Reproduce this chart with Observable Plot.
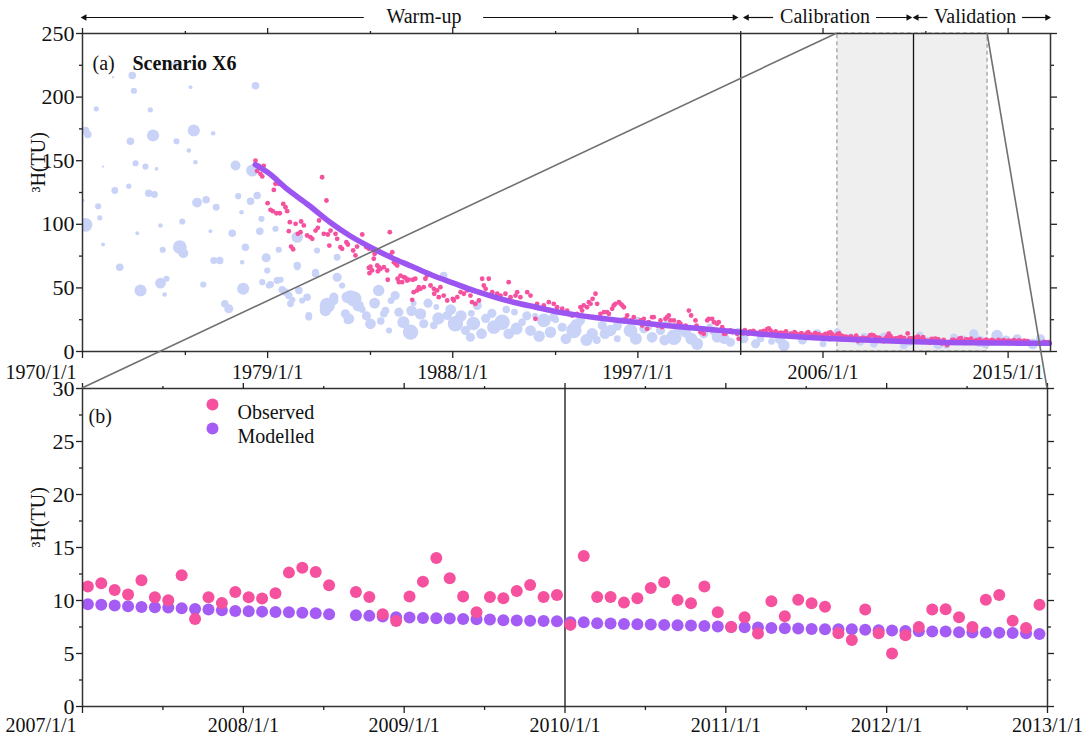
<!DOCTYPE html>
<html><head><meta charset="utf-8">
<script src="https://cdn.jsdelivr.net/npm/d3@7"></script>
<script src="https://cdn.jsdelivr.net/npm/@observablehq/plot@0.6"></script>
<style>
body{margin:0;background:#fff;}
#wrap{position:relative;width:1086px;height:736px;}
#wrap svg{display:block;}
#overlay{position:absolute;left:0;top:0;pointer-events:none;}
</style></head><body><div id="wrap"></div>
<script>
// ---------------- DATA ----------------
// Period annotations (panel a, top)
const periodLabels = ["Warm-up", "Calibration", "Validation"];
const periodStart = [1970.0, 2002.2, 2010.45];
const periodEnd = [2001.8, 2010.25, 2017.0];
const periodLabelAt = [1986.6, 2006.1, 2013.4];
const periodGapHalf = [2.9, 2.5, 2.3];
const periodDividers = [2002.0, 2010.4];
const zoomWindowA = [2006.7, 2014.0];   // grey box in panel a
const zoomWindowB = [2007, 2013];       // panel b domain

// Tick values
const xMajorA = [1970, 1979, 1988, 1997, 2006, 2015];
const xMinorA = [1975, 1984, 1993, 2002, 2011];
const yMajorA = [0, 50, 100, 150, 200, 250];
const yMinorA = [25, 75, 125, 175, 225];
const xMajorB = [2007, 2008, 2009, 2010, 2011, 2012, 2013];
const xMinorB = [2007.5, 2008.5, 2009.5, 2010.5, 2011.5, 2012.5];
const yMajorB = [0, 5, 10, 15, 20, 25, 30];
const yMinorB = [2.5, 7.5, 12.5, 17.5, 22.5, 27.5];
const panelBDivider = [2010];

// Precipitation tritium (bubbles): year, 3H (TU), amount (bubble size)
const bubbleYear = [1972.42,1974.52,1971.49,1972.5,1978.41,1975.25,1970.67,1973.3,1970.15,1970.26,1973.43,1975.41,1972.33,1974.57,1976.35,1975.17,1975.49,1972.58,1973.06,1971.0,1973.6,1977.44,1978.25,1972.25,1971.57,1973.22,1973.5,1975.57,1976.01,1976.5,1977.57,1978.49,1978.17,1970.76,1970.03,1970.15,1970.84,1974.85,1973.79,1977.73,1978.7,1978.62,1976.22,1977.28,1971.0,1972.66,1974.73,1974.9,1973.9,1976.67,1977.76,1978.93,1979.54,1971.81,1972.82,1973.79,1974.08,1975.87,1977.81,1973.99,1976.92,1977.11,1978.74,1979.06,1979.63,1979.71,1980.03,1980.2,1980.52,1976.38,
1979.38,1980.44,1981.4,1977.92,1978.98,1980.44,1981.33,1982.38,1979.14,1979.46,1979.88,1980.92,1981.81,1982.22,1982.87,1982.87,1981.0,1980.11,1982.38,
1980.44,1981.33,1980.68,1981.0,1981.9,1982.22,1982.62,1983.19,1982.78,1982.95,1984.0,1984.4,1984.73,1984.9,1985.38,1985.95,1986.43,1986.59,1987.08,1987.56,1987.73,1988.13,1988.62,1988.86,1989.19,1990.0,1990.4,1990.72,1991.37,1991.78,1992.43,1992.75,1993.32,1993.89,1994.21,1994.78,1995.27,1995.67,1996.32,1996.64,1997.29,1997.69,1998.1,1998.75,1999.32,1999.88,2000.2,2000.85,2001.5,2002.15,
2002.72,2002.96,2004.1,2004.42,2005.72,2006.69,2007.34,2008.47,2009.93,2011.06,2012.36,2013.33,2014.46,2015.44,2016.57,
1983.03,1984.65,1985.86,1983.6,1985.0,1986.1,1987.2,1988.9,1989.6,1991.0,1992.0,1993.0,1995.0,1996.0,1997.0,1998.4,2000.5,2003.5,2005.0,2006.0,2008.0,2009.2,2010.7,2012.0,2013.9,2015.0,
1983.4,1983.8,1984.2,1984.5,1985.2,1985.6,1986.0,1986.8,1987.3,1987.9,1988.4,1989.0,1989.4,1989.9,1990.6,1991.1,1991.6,1992.2,1992.9,1993.5,1994.0,1994.5,1995.4,1996.0,1996.9,1997.5,1998.3,1999.0,1999.6,2000.7,2001.2,2001.9,2003.0,2003.9,2004.9,2006.3,2007.8,2009.0,2010.2,2011.6,2012.8,2013.6,2014.9,2016.2];
const bubbleValue = [217,225.6,215.6,205,209,207.8,190.8,190,173.7,170.6,169.8,173.7,165.3,165.3,171.6,158,148.8,148,145.4,145.4,143.6,146.2,142.3,130,126.6,124.4,123.4,117.1,119.3,113.4,122.1,122.6,118.2,114.2,118.7,99.6,105.1,102.2,99.1,109.5,104.3,94.6,94.6,93,84.1,93,82,77.3,80,71.5,70.2,73.7,80,66.3,48,53.7,57.2,52.7,49.3,44.8,37.5,33.6,54.5,51.9,56.4,48.5,44,40.6,48,71.5,
96.5,89.9,79.4,82,63.7,67.6,61.1,58.4,52.7,55.8,46.6,42.7,32.2,42.7,42.7,24.4,28.3,37.5,74.1,
66.3,62.3,40.1,27,36.2,40.1,51.9,41.4,29.6,25.7,21.8,48,32.2,16.5,30.9,15.2,29.6,21.8,20.4,59.7,28.3,21.8,16.5,11.2,36.2,19.1,23,13.9,23,16.5,24.4,15.2,19.1,16.5,24.4,13.9,20.4,16.5,24.4,16.5,17.8,11.2,16.5,11.2,15.2,6,13.9,11.2,7.3,10,
6,10,4.7,13.9,13.9,15.2,11.2,6,4.7,8.6,11.2,13.9,12.6,10,10,
42.7,29.6,15.2,33,40,38,35,30,26,31,28,25,9,10,25,22,20,8,9,6,12,9,13,5,6,7,
36,28,38,24,44,23,32,38,26,33,28,22,14,30,33,18,28,12,27,10,21,9,14,20,10,20,9,18,10,16,10,15,14,10,13,11,8,11,8,6,9,8,9,6];
const bubbleAmount = [109,73,10,73,109,29,53,53,109,109,281,281,109,73,40,40,40,73,73,10,29,185,281,53,90,109,90,185,109,90,73,109,109,73,17,360,53,73,40,40,73,109,29,109,29,29,360,185,73,109,40,160,73,109,281,221,73,73,281,40,109,160,73,73,73,109,109,73,109,90,
73,250,73,109,73,109,109,160,90,90,109,109,250,160,250,90,90,90,90,
73,90,73,90,449,160,73,449,160,221,221,250,109,73,160,449,250,160,109,109,160,449,160,160,160,360,449,221,109,221,360,250,160,449,160,250,160,250,109,360,160,221,160,449,221,281,160,221,160,160,
160,109,250,73,160,109,109,109,109,109,109,160,250,160,160,
360,109,221,90,90,63,63,90,160,90,63,90,123,90,63,73,63,90,160,90,90,90,90,90,160,109,
250,160,221,109,160,281,221,160,281,221,250,360,221,160,109,281,160,250,160,221,250,281,221,160,281,160,221,160,281,160,221,160,160,221,109,160,160,221,160,221,160,250,160,221];

// Observed 3H, 1978-2001 (panel a)
const obsEarlyYear = [1978.41,1978.49,1978.57,1978.65,1978.74,1978.81,1979.0,1979.14,1979.25,1979.3,1979.38,1979.43,1979.55,1979.59,1979.76,1979.87,1979.95,1980.03,1980.08,1980.14,1980.24,1980.36,1980.47,1980.6,1980.63,1980.76,1980.92,1981.08,1981.17,1981.33,1981.44,1981.5,1981.65,1981.73,1981.86,1981.93,1982.0,1982.06,1982.3,1982.38,1982.54,1982.62,1982.83,1982.9,1983.16,1983.27,1983.35,1983.6,1983.8,1983.92,1983.92,1983.95,1984.0,1984.08,1984.16,1984.2,1984.33,1984.36,1984.41,1984.49,1984.65,1984.81,1984.84,1984.94,1984.97,1985.06,1985.14,1985.22,1985.3,1985.32,1985.38,1985.46,1985.54,1985.62,1985.7,1985.78,1985.86,1986.03,1986.06,1986.1,1986.18,1986.27,1986.35,1986.43,1986.59,1986.67,1986.75,1986.92,1987.08,1987.1,1987.24,1987.32,1987.4,1987.56,1987.73,1988.0,1988.05,1988.22,1988.38,1988.54,1988.7,1988.86,1988.94,1989.1,1989.27,1989.43,1989.51,1989.6,1989.75,1989.92,1990.16,1990.32,1990.56,1990.72,1990.81,1991.05,1991.13,1991.29,1991.62,1991.78,1992.02,1992.1,1992.43,1992.67,1992.91,1993.07,1993.32,1993.56,1993.8,1994.04,1994.21,1994.29,1994.37,1994.53,1994.62,1994.7,1994.8,1994.94,1995.02,1995.18,1995.35,1995.51,1995.59,1995.75,1995.83,1995.91,1996.08,1996.16,1996.24,1996.32,1996.4,1996.48,1996.64,1996.8,1996.97,1997.13,1997.21,1997.29,1997.45,1997.53,1997.69,1997.77,1997.94,1998.1,1998.18,1998.34,1998.42,1998.5,1998.58,1998.75,1998.83,1998.99,1999.07,1999.32,1999.48,1999.59,1999.8,1999.85,2000.04,2000.12,2000.2,2000.37,2000.45,2000.61,2000.7,2000.85,2000.93,2001.1,2001.18,2001.26,2001.5,2001.6,2001.83,2001.9];
const obsEarlyValue = [150,142,146,139.7,137.6,146,116.6,111.4,110.3,127,131.8,108.7,131.8,108.7,116,113.4,110.3,94.6,101.7,82.5,80.4,100.4,92.5,93.8,102.2,99.1,91.2,89.9,88.6,95.1,97.2,103,137,92.5,118.7,92,83.3,95.1,92.5,88.6,82,80.7,85.9,84.1,79.4,75.5,82.5,92,82,80.7,65.8,61.6,66.8,63.7,72.9,76.8,67.6,63.1,66.3,65,66.3,63.7,56.4,93.8,75.5,78.1,70.2,68.9,67.6,57.2,54.5,59.7,54.5,58.4,57.9,55.8,56.4,40.6,56.4,46.6,57.2,48,50.6,49.3,50.6,57.2,59.7,51.9,49.3,45.4,48,42.7,50.6,44,40.1,41.4,40.1,42.7,46.6,45.4,48,44,38.8,37.5,40.1,57.2,51.9,49.3,57.2,46.6,45.4,44,45.4,54.5,42.7,44,46.6,42.7,46.6,44,25.7,37.5,36.2,38.8,37.5,34.8,33.6,32.2,28.3,29.6,34.8,32.2,36.2,34.8,38.8,37.5,41.4,45.4,37.5,29.6,30.9,30.9,29.6,33.6,36.2,37.5,38.8,37.5,36.2,34.8,25.7,28.3,24.4,27,23,24.4,20.4,25.7,17.8,23,27,27,20.4,24.4,19.1,25.7,27,28.3,24.4,24.4,20.4,23,21.8,20.4,32.2,28.3,24.4,20.4,15.2,16.5,13.9,24.4,25.7,25.7,23,21.8,23,19.1,13.9,13.9,16.5,15.2,13.9,10];

// Observed 3H, monthly 2002-2015 (null = no sample)
const obsMonthlyYears = [2002,2003,2004,2005,2006,2007,2008,2009,2010,2011,2012,2013,2014,2015];
const obsMonthlyValues = [
  [15.5,14.2,16.8,15.0,13.9,15.8,14.6,16.2,15.1,14.3,13.8,15.4],
  [14.9,16.1,15.3,17.5,18.2,16.4,15.0,14.2,15.8,14.6,13.5,14.9],
  [13.8,14.6,15.9,13.2,12.7,14.1,13.5,15.2,14.0,12.8,13.3,14.4],
  [13.1,12.4,14.2,15.3,13.6,12.2,13.0,14.5,12.9,13.7,12.6,11.9],
  [12.8,13.9,12.3,14.6,15.1,13.4,12.1,11.8,13.6,14.3,12.7,12.0],
  [11.31,11.62,11.0,10.56,11.91,10.30,10.02,12.38,8.26,10.30,9.77,10.81],
  [10.30,10.18,10.68,12.63,13.1,12.69,11.44,null,10.81,10.34,8.70,8.07],
  [10.37,11.78,14.01,12.1,10.37,8.89,10.34,10.21,10.9,11.47,10.34,10.52],
  [7.70,14.2,10.34,10.34,9.80,10.21,11.18,11.72,10.05,9.74,11.31,8.89],
  [7.51,8.42,6.88,9.93,8.51,10.08,9.74,9.42,6.91,6.28,9.14,6.91],
  [5.0,6.72,7.51,9.14,9.17,8.42,7.51,10.08,10.52,8.1,7.41,9.61],
  [9.4,8.7,10.1,8.2,7.9,9.0,8.5,9.6,8.1,7.6,8.8,9.3],
  [8.3,7.8,9.1,8.6,7.4,8.0,9.2,8.4,7.7,8.9,8.2,7.5],
  [8.6,7.9,8.3,9.0,7.6,8.1,8.8,7.3,8.0,8.5,7.8,8.2]
];
const obsLateYear = [2016.75, 2016.85, 2016.95];
const obsLateValue = [7.6, 6.9, 7.3];

// Modelled 3H, panel a (annual)
const modYearA = [1978.4,1979,1980,1981,1982,1983,1984,1985,1986,1987,1988,1989,1990,1991,1992,1993,1994,1995,1996,1997,1998,1999,2000,2001,2002,2003,2004,2005,2006,2007,2008,2009,2010,2011,2012,2013,2014,2015,2016,2017];
const modValueA = [147,141,127,115,102,91,82,74,67,60,54,48,43,38.5,35,31.5,28.8,26.5,24.5,22.8,21.1,19.5,18,16.6,15.2,13.6,12.3,11.3,10.4,9.65,8.98,8.39,7.95,7.51,7.16,6.85,6.7,6.6,6.5,6.4];

// Modelled 3H, monthly 2007-2012 (panel b)
const modMonthlyYears = [2007,2008,2009,2010,2011,2012];
const modMonthlyValues = [
  [9.65,9.61,9.52,9.46,9.39,9.36,9.33,9.27,9.2,9.14,9.08,9.02],
  [8.98,8.95,8.92,8.89,8.85,8.8,8.7,null,8.61,8.55,8.48,8.42],
  [8.39,8.36,8.33,8.3,8.26,8.23,8.2,8.14,8.12,8.1,8.07,8.04],
  [7.95,7.95,7.85,7.82,7.79,7.76,7.73,7.7,7.67,7.64,7.6,7.54],
  [7.51,7.48,7.45,7.41,7.38,7.35,7.32,7.29,7.29,7.29,7.23,7.2],
  [7.16,7.13,7.1,7.08,7.07,7.0,6.98,6.97,6.95,6.93,6.91,6.85]
];

const legendLabels = ["Observed", "Modelled"];

// ---------------- BUILD ----------------
const PINK = "#f5519e", PURPLE_A = "#9d55f1", PURPLE_B = "#a55cf4", BUBBLE = "#c9d3f7";
const FONT = '"Liberation Serif", "Times New Roman", serif';
const W = 1086, HA = 383, HB = 353;
const monthT = (y, m) => y + (m + 0.4) / 12;

const bubbles = bubbleYear.map((t, i) => ({t, v: bubbleValue[i], a: bubbleAmount[i]}));
const monthlyRows = (years, vals) => years.flatMap((y, i) => vals[i].map((v, m) => ({t: monthT(y, m), year: y, v})));
const obsMonthly = monthlyRows(obsMonthlyYears, obsMonthlyValues);
const obsA = [
  ...obsEarlyYear.map((t, i) => ({t, v: obsEarlyValue[i]})),
  ...obsMonthly,
  ...obsLateYear.map((t, i) => ({t, v: obsLateValue[i]}))
];
const modA = modYearA.map((t, i) => ({t, v: modValueA[i]}));
const obsB = obsMonthly.filter(d => d.year >= zoomWindowB[0] && d.year < zoomWindowB[1]);
const modB = monthlyRows(modMonthlyYears, modMonthlyValues);

const periods = periodLabels.map((label, i) => ({label, s: periodStart[i], e: periodEnd[i], c: periodLabelAt[i], g: periodGapHalf[i]}));
const segs = periods.flatMap(p => [{x1: p.s, x2: p.c - p.g}, {x1: p.c + p.g, x2: p.e}]);

const fmtDate = d => `${d}/1/1`;
const blank = () => "";
function frameAxes(xMajor, xMinor, yMajor, yMinor, pad) {
  const common = {label: null, stroke: "#222", strokeWidth: 1.3};
  return [
    Plot.axisX({...common, anchor: "bottom", ticks: xMajor, tickSize: 7, tickPadding: pad, tickFormat: (d, i) => (i === 0 ? "" : fmtDate(d))}),
    // first date label sits just left of its tick, as in the original
    Plot.text([xMajor[0]], {x: d => d, frameAnchor: "bottom", lineAnchor: "top", dy: 7 + pad, dx: -6, textAnchor: "end", text: fmtDate, fill: "#111"}),
    Plot.axisX({...common, anchor: "bottom", ticks: xMinor, tickSize: 4, tickFormat: blank}),
    Plot.axisX({...common, anchor: "top", ticks: xMajor, tickSize: 6, tickFormat: blank}),
    Plot.axisX({...common, anchor: "top", ticks: xMinor, tickSize: 3, tickFormat: blank}),
    Plot.axisY({...common, anchor: "left", ticks: yMajor, tickSize: 6, tickPadding: 2, fontSize: 22}),
    Plot.axisY({...common, anchor: "left", ticks: yMinor, tickSize: 3, tickFormat: blank}),
    Plot.axisY({...common, anchor: "right", ticks: yMajor, tickSize: 6, tickFormat: blank}),
    Plot.axisY({...common, anchor: "right", ticks: yMinor, tickSize: 3, tickFormat: blank})
  ];
}
const style = {fontFamily: FONT, fontSize: "20px", color: "#111", background: "transparent", overflow: "visible"};

const plotA = Plot.plot({
  width: W, height: HA,
  marginLeft: 82, marginRight: 36, marginTop: 33, marginBottom: 32,
  style,
  x: {domain: [1970, 2017.06], label: null},
  y: {domain: [0, 250], label: null},
  r: {type: "sqrt", domain: [0, 490], range: [0, 8]},
  marks: [
    Plot.rect([zoomWindowA], {x1: d => d[0], x2: d => d[1], y1: 0, y2: 250, fill: "#efefef", stroke: "#9a9a9a", strokeWidth: 1.2, strokeDasharray: "4,3"}),
    Plot.dot(bubbles, {x: "t", y: "v", r: "a", fill: BUBBLE, clip: true}),
    Plot.dot(obsA, {x: "t", y: "v", r: 2.4, fill: PINK}),
    Plot.line(modA, {x: "t", y: "v", stroke: PURPLE_A, strokeWidth: 5.5, curve: "monotone-x"}),
    Plot.ruleX(periodDividers, {y1: 0, y2: 250, stroke: "#111", strokeWidth: 1.3}),
    Plot.frame({stroke: "#333", strokeWidth: 1.5}),
    ...frameAxes(xMajorA, xMinorA, yMajorA, yMinorA, 6),
    // period annotations above the frame
    Plot.ruleY(segs, {x1: "x1", x2: "x2", y: () => 250, dy: -16, stroke: "#111", strokeWidth: 1.2}),
    Plot.text(periods, {x: "c", y: () => 250, dy: -17, text: "label", fill: "#111"}),
    Plot.dot(periods, {x: "e", y: () => 250, dy: -16, dx: -2, symbol: "triangle2", rotate: 90, r: 3.2, fill: "#111"}),
    Plot.dot(periods, {x: "s", y: () => 250, dy: -16, dx: 2, symbol: "triangle2", rotate: -90, r: 3.2, fill: "#111"}),
    // panel labels
    Plot.text(["(a)"], {frameAnchor: "top-left", dx: 10, dy: 22, textAnchor: "start", fill: "#111"}),
    Plot.text(["Scenario X6"], {frameAnchor: "top-left", dx: 50, dy: 22, textAnchor: "start", fontWeight: "bold", fill: "#111"}),
    Plot.text(["³H(TU)"], {frameAnchor: "left", rotate: -90, dx: -44, fill: "#111"})
  ]
});

const plotB = Plot.plot({
  width: W, height: HB,
  marginLeft: 82, marginRight: 39, marginTop: 5, marginBottom: 30,
  style,
  x: {domain: zoomWindowB, label: null},
  y: {domain: [0, 30], label: null},
  marks: [
    Plot.ruleX(panelBDivider, {y1: 0, y2: 30, stroke: "#111", strokeWidth: 1.3}),
    Plot.dot(modB, {x: "t", y: "v", r: 6, fill: PURPLE_B}),
    Plot.dot(obsB, {x: "t", y: "v", r: 6, fill: PINK}),
    Plot.frame({stroke: "#333", strokeWidth: 1.5}),
    ...frameAxes(xMajorB, xMinorB, yMajorB, yMinorB, 4),
    Plot.text(["(b)"], {frameAnchor: "top-left", dx: 6, dy: 20, textAnchor: "start", fill: "#111"}),
    // legend
    Plot.dot([legendLabels[0]], {frameAnchor: "top-left", dx: 130, dy: 16, r: 6, fill: PINK}),
    Plot.dot([legendLabels[1]], {frameAnchor: "top-left", dx: 130, dy: 40, r: 6, fill: PURPLE_B}),
    Plot.text([legendLabels[0]], {frameAnchor: "top-left", dx: 155, dy: 16, textAnchor: "start", fill: "#111"}),
    Plot.text([legendLabels[1]], {frameAnchor: "top-left", dx: 155, dy: 40, textAnchor: "start", fill: "#111"}),
    Plot.text(["³H(TU)"], {frameAnchor: "left", rotate: -90, dx: -44, fill: "#111"})
  ]
});

const wrap = document.getElementById("wrap");
wrap.appendChild(plotA);
wrap.appendChild(plotB);

// connector lines between panel a zoom box and panel b frame (positions from the plots' scales)
const xB = plotB.scale("x"), yB = plotB.scale("y"), xA = plotA.scale("x"), yA = plotA.scale("y");
const svgO = d3.select(wrap).append("svg").attr("id", "overlay").attr("width", W).attr("height", HA + HB);
svgO.selectAll("line").data([0, 1]).join("line")
  .attr("x1", i => xA.apply(zoomWindowA[i])).attr("y1", yA.apply(250))
  .attr("x2", i => xB.apply(zoomWindowB[i])).attr("y2", HA + yB.apply(30))
  .attr("stroke", "#707070").attr("stroke-width", 1.6);
</script></body></html>
